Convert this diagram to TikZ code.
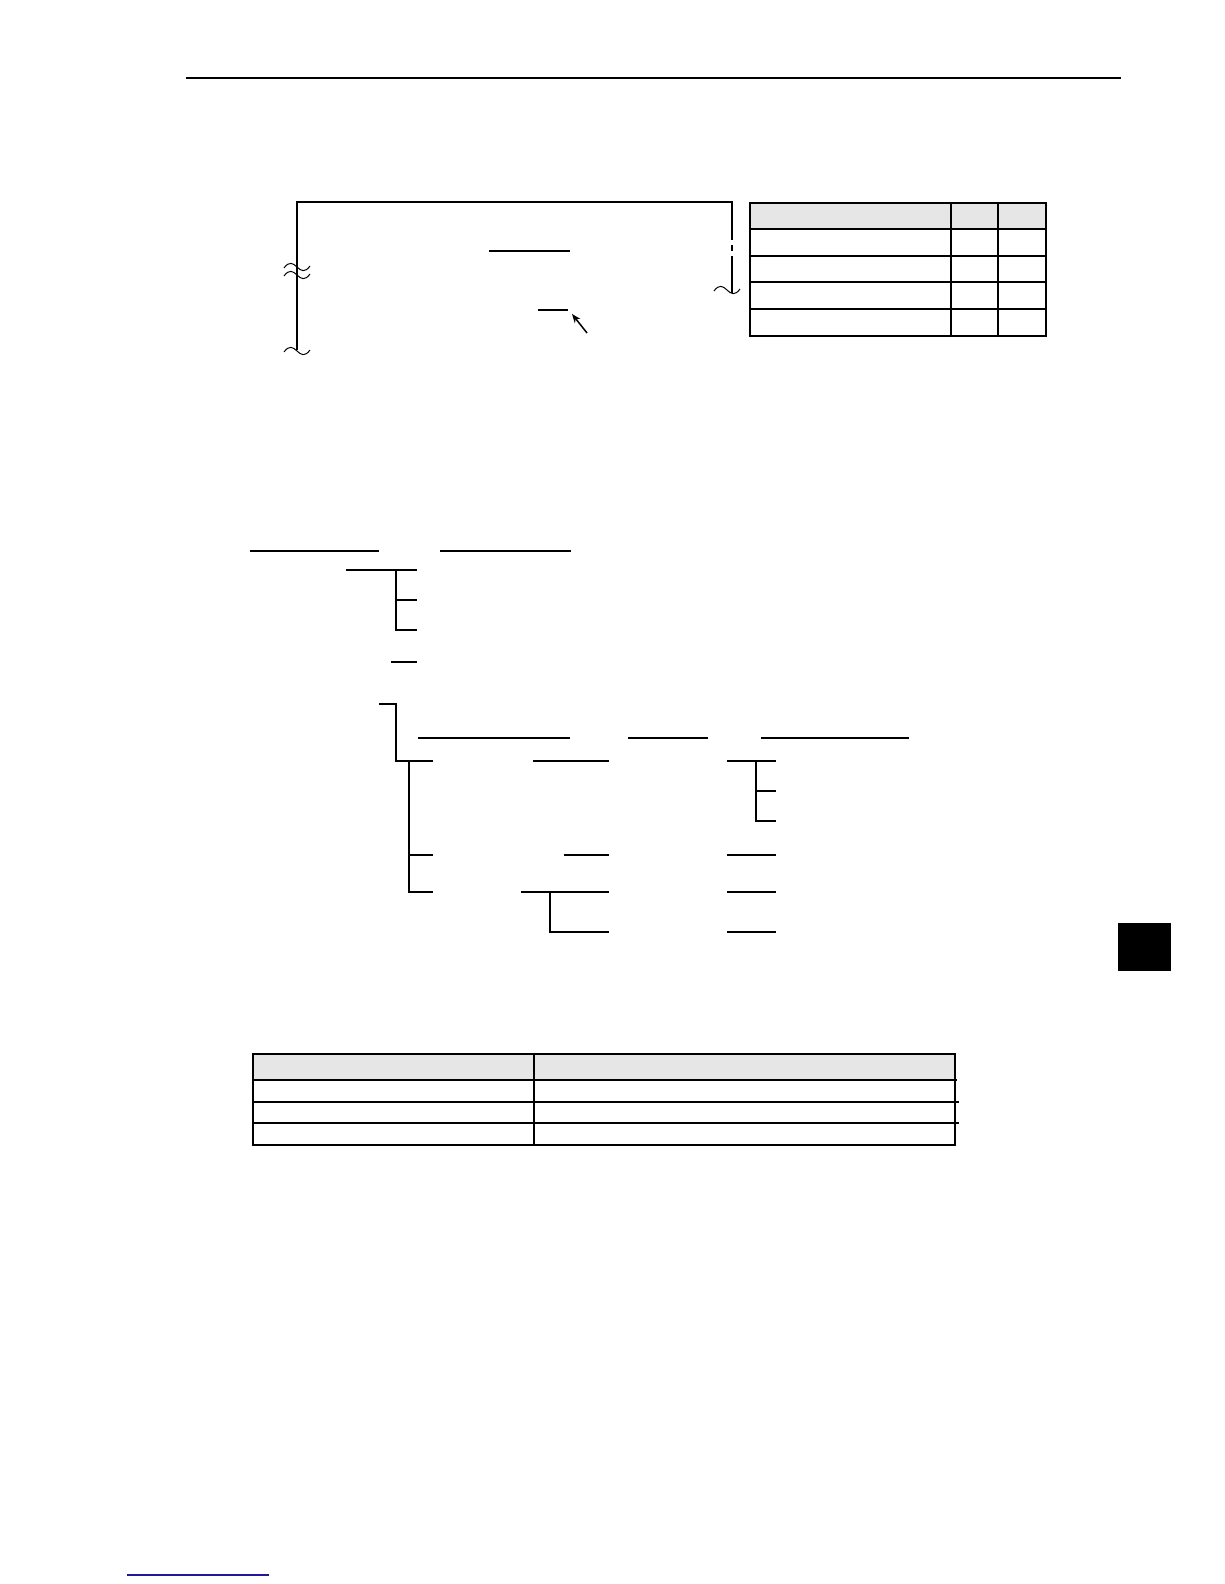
\documentclass[tikz,border=0pt]{standalone}
\usepackage{tikz}
\usetikzlibrary{positioning, arrows.meta}

\definecolor{headgray}{HTML}{E6E6E6}
\definecolor{linkblue}{HTML}{1A1A9A}

\tikzset{
    rule/.style={line width=1.5pt},
    frame/.style={line width=2.6pt},
    brkwave/.pic={\draw[line width=1pt] (-13,1) .. controls (-8,-6) and (-4,-4) .. (0,0) .. controls (4,4) and (8,6) .. (13,-1);}
}

\begin{document}
\begin{tikzpicture}[x=1pt, y=-1pt]
        \useasboundingbox (0,0) rectangle (1224,1584);

        % page rule
        \coordinate (RL) at (186,78);
        \coordinate (RR) at (1121,78);
        \draw[rule] (RL) -- (RR);

        % top frame
        \coordinate (FA) at (297,350);
        \coordinate (FB) at (297,202);
        \coordinate (FC) at (732,202);
        \draw[rule] (FA) -- (FB) -- (FC) -- (732,240);
        \draw[rule] (732,245) -- (732,251);
        \draw[rule] (732,256) -- (732,293);
        \pic at (297,267) {brkwave};
        \pic at (297,275) {brkwave};
        \pic at (297,351) {brkwave};
        \pic at (727,290) {brkwave};

        \draw[rule] (489,251) -- (570,251);
        \draw[rule] (538,310) -- (568,310);
        \draw[rule, -{Stealth[length=9pt, width=7pt]}] (587,333) -- (572,314);

        % small table
        \fill[headgray] (750,203) rectangle (1046,229);
        \draw[rule] (951,203) -- (951,336);
        \draw[rule] (998,203) -- (998,336);
        \draw[frame] (750,229) -- (1046,229);
        \draw[frame] (750,256) -- (1046,256);
        \draw[rule] (750,282) -- (1046,282);
        \draw[rule] (750,309) -- (1046,309);
        \draw[frame] (750,203) rectangle (1046,336);

        % first tree
        \draw[rule] (250,551) -- (379,551);
        \draw[rule] (440,551) -- (571,551);
        \coordinate (A) at (346,570);
        \coordinate (A1) at (417,570);
        \coordinate (A2) at (417,600);
        \coordinate (A3) at (417,630);
        \draw[rule] (A) -- (A1);
        \draw[rule] (396,570) |- (A2);
        \draw[rule] (396,570) |- (A3);
        \draw[rule] (391,662) -- (417,662);

        % second tree
        \coordinate (B) at (379,704);
        \coordinate (B1) at (433,761);
        \coordinate (B2) at (433,855);
        \coordinate (B3) at (433,892);
        \draw[rule] (B) -- (396,704) |- (B1);
        \draw[rule] (409,761) |- (B2);
        \draw[rule] (409,761) |- (B3);

        \draw[rule] (418,738) -- (570,738);
        \draw[rule] (628,738) -- (708,738);
        \draw[rule] (761,738) -- (909,738);

        \coordinate (C1) at (609,761);
        \coordinate (C2) at (609,855);
        \coordinate (C3) at (609,892);
        \coordinate (C4) at (609,932);
        \draw[rule] (533,761) -- (C1);
        \draw[rule] (564,855) -- (C2);
        \draw[rule] (521,892) -- (C3);
        \draw[rule] (550,892) |- (C4);

        \coordinate (D1) at (776,761);
        \coordinate (D2) at (776,791);
        \coordinate (D3) at (776,821);
        \draw[rule] (727,761) -- (D1);
        \draw[rule] (756,761) |- (D2);
        \draw[rule] (756,761) |- (D3);
        \draw[rule] (727,855) -- (776,855);
        \draw[rule] (727,892) -- (776,892);
        \draw[rule] (727,932) -- (776,932);

        % wide table
        \fill[headgray] (253,1054) rectangle (955,1080);
        \draw[rule] (534,1054) -- (534,1145);
        \draw[frame] (253,1080) -- (957,1080);
        \draw[rule] (253,1102) -- (959,1102);
        \draw[rule] (253,1123) -- (959,1123);
        \draw[frame] (253,1054) rectangle (955,1145);

        % side tab
        \fill[black] (1118,923) rectangle (1171,971);

        % foot link
        \draw[linkblue, line width=1.2pt] (127,1575) -- (269,1575);
    \end{tikzpicture}
\end{document}
